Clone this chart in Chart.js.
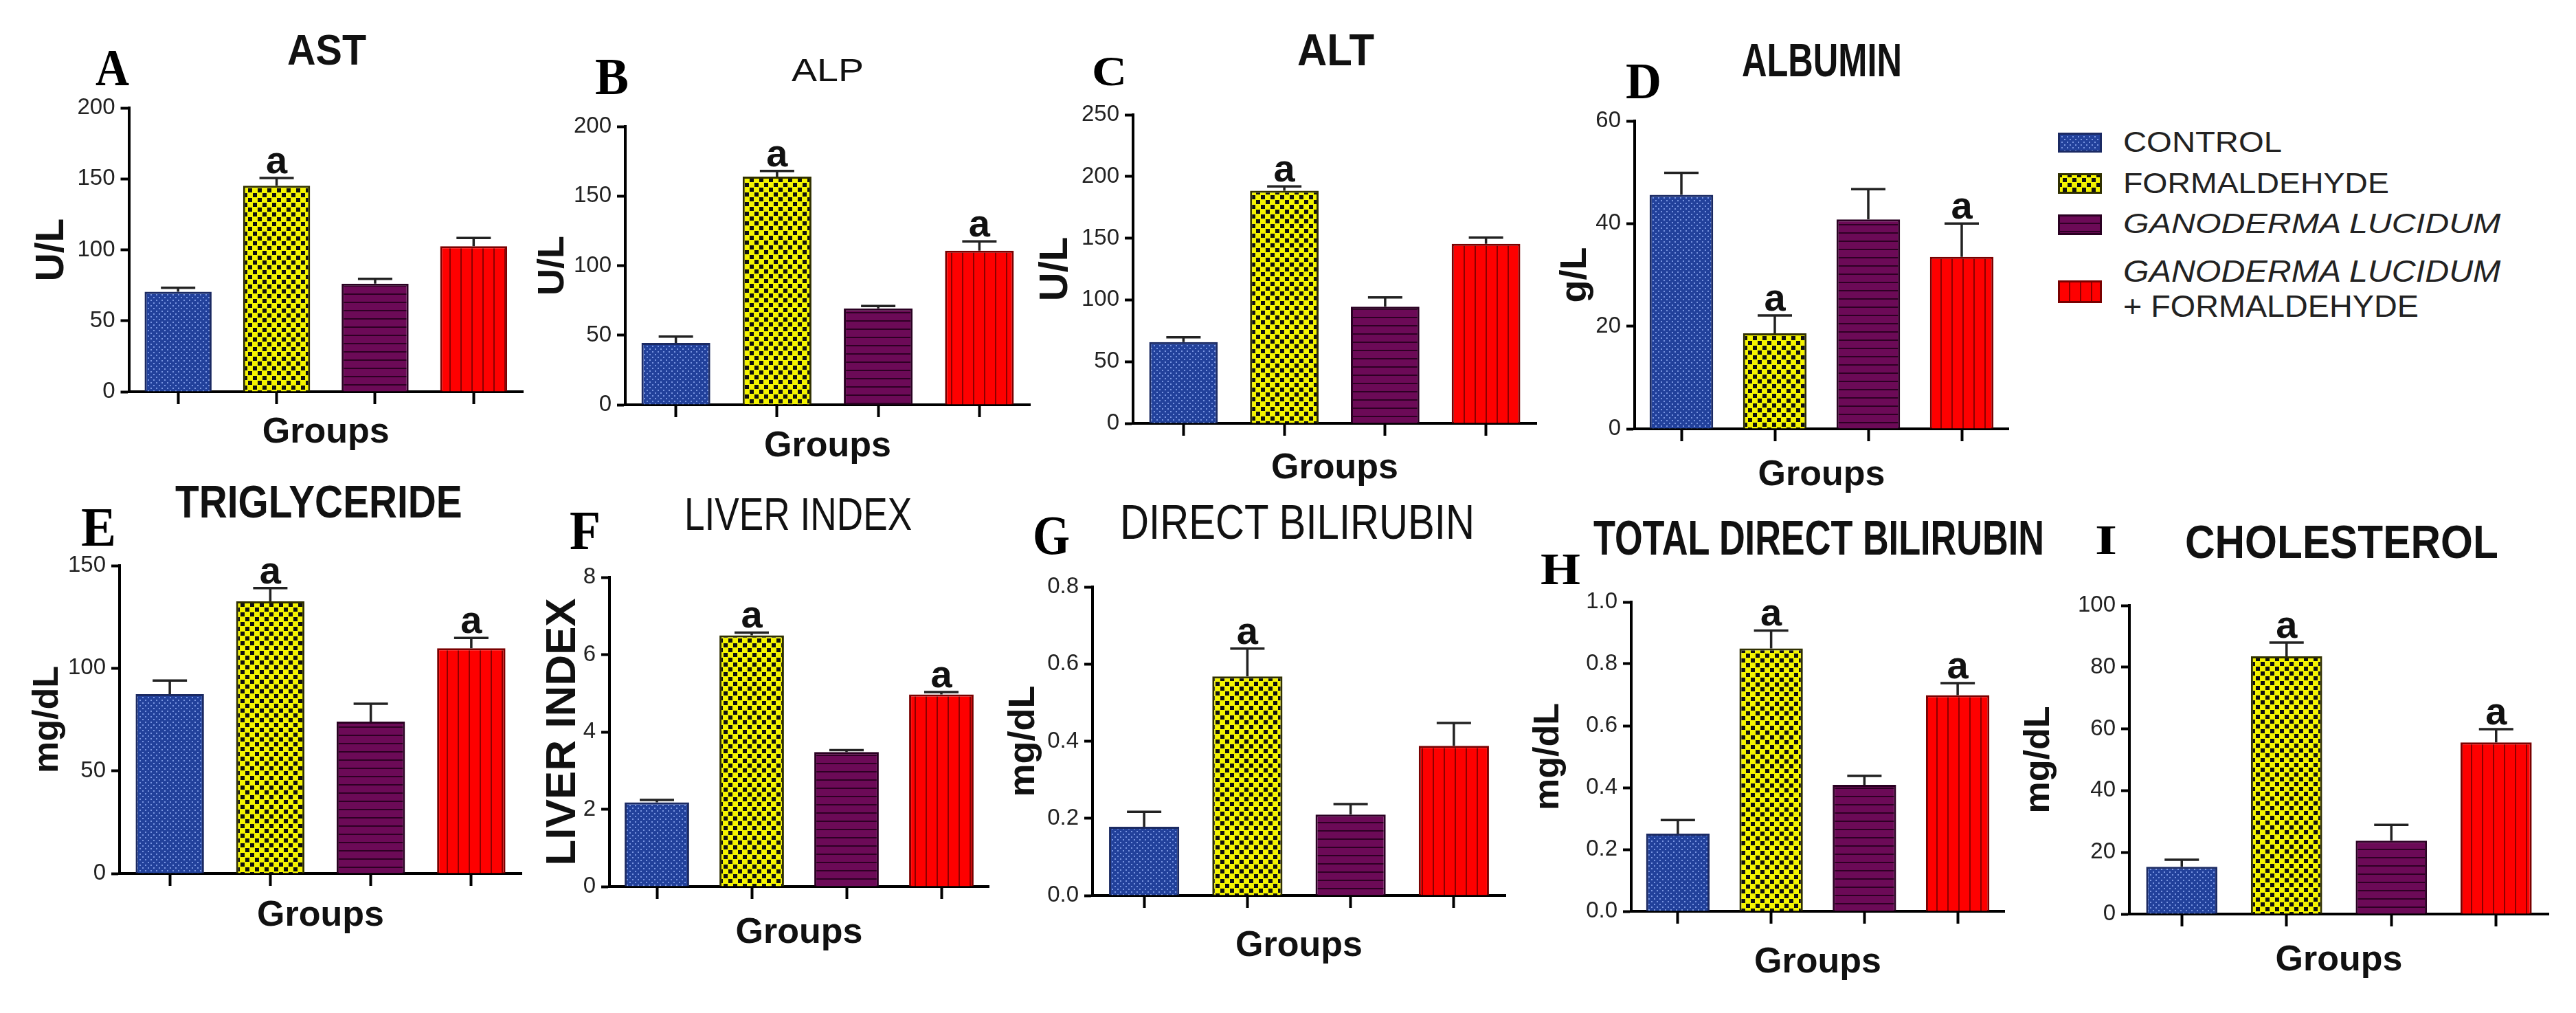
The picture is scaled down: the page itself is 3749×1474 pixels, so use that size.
<!DOCTYPE html>
<html>
<head>
<meta charset="utf-8">
<script src="https://cdn.jsdelivr.net/npm/chart.js@4.4.1/dist/chart.umd.min.js"></script>
<style>
  html, body { margin: 0; padding: 0; background: #fff; }
  #fig { position: relative; width: 3749px; height: 1474px; overflow: hidden; background: #fff; }
  #fig canvas { position: absolute; }
  .txt { position: absolute; white-space: nowrap; line-height: 1; color: #111; }
</style>
</head>
<body>
<div id="fig"></div>
<script>
// groups, in bar order
const categories = ['CONTROL', 'FORMALDEHYDE', 'GANODERMA LUCIDUM', 'GANODERMA LUCIDUM + FORMALDEHYDE'];

// values (mean, upper error, significance letter)
const astValues = [70.4, 145.1, 76.2, 102.5];
const astErrors = [2.9, 5.5, 3.3, 5.9];
const astLetters = ['', 'a', '', ''];
const astTicks = [200, 50];

const alpValues = [44.4, 164, 69.3, 110.8];
const alpErrors = [4.6, 4, 1.7, 6.6];
const alpLetters = ['', 'a', '', 'a'];
const alpTicks = [200, 50];

const altValues = [65.9, 188.5, 94.5, 145.5];
const altErrors = [3.8, 3.5, 7.5, 5];
const altLetters = ['', 'a', '', ''];
const altTicks = [250, 50];

const albuminValues = [45.6, 18.6, 40.8, 33.5];
const albuminErrors = [4.3, 3.5, 5.9, 6.5];
const albuminLetters = ['', 'a', '', 'a'];
const albuminTicks = [60, 20];

const triglycerideValues = [87.4, 132.6, 74, 109.7];
const triglycerideErrors = [6.6, 6.4, 8.7, 5.1];
const triglycerideLetters = ['', 'a', '', 'a'];
const triglycerideTicks = [150, 50];

const liverIndexValues = [2.18, 6.5, 3.48, 4.97];
const liverIndexErrors = [0.06, 0.07, 0.05, 0.06];
const liverIndexLetters = ['', 'a', '', 'a'];
const liverIndexTicks = [8, 2];

const directBiliValues = [0.178, 0.568, 0.21, 0.388];
const directBiliErrors = [0.039, 0.072, 0.027, 0.059];
const directBiliLetters = ['', 'a', '', ''];
const directBiliTicks = [0.8, 0.2];

const totalBiliValues = [0.251, 0.85, 0.409, 0.699];
const totalBiliErrors = [0.044, 0.058, 0.029, 0.039];
const totalBiliLetters = ['', 'a', '', 'a'];
const totalBiliTicks = [1.0, 0.2];

const cholesterolValues = [15.3, 83.5, 23.8, 55.6];
const cholesterolErrors = [2.3, 4.5, 5.1, 4.3];
const cholesterolLetters = ['', 'a', '', 'a'];
const cholesterolTicks = [100, 20];

const SANS = '"Liberation Sans", Arial, sans-serif';
const SERIF = '"Liberation Serif", "Times New Roman", serif';
const fig = document.getElementById('fig');
const measureCtx = document.createElement('canvas').getContext('2d');

// --- bar fill patterns ---
function tile(w, h, draw) {
  const c = document.createElement('canvas');
  c.width = w; c.height = h;
  const g = c.getContext('2d');
  draw(g);
  return g.createPattern(c, 'repeat');
}
const fills = [
  tile(8, 8, g => {
    g.fillStyle = '#22419b'; g.fillRect(0, 0, 8, 8);
    g.fillStyle = '#7894e0'; g.fillRect(1, 1, 2, 2); g.fillRect(5, 5, 2, 2);
  }),
  tile(14, 14, g => {
    g.fillStyle = '#f4f400'; g.fillRect(0, 0, 14, 14);
    g.fillStyle = '#111'; g.fillRect(0, 0, 6, 6); g.fillRect(7, 7, 6, 6);
  }),
  tile(12, 12, g => {
    g.fillStyle = '#6c0a57'; g.fillRect(0, 0, 12, 12);
    g.fillStyle = '#2e0024'; g.fillRect(0, 0, 12, 2);
  }),
  tile(16, 16, g => {
    g.fillStyle = '#fe0000'; g.fillRect(0, 0, 16, 16);
    g.fillStyle = '#8c0000'; g.fillRect(0, 0, 2, 16);
  })
];
const borders = ['#1b2a63', '#303000', '#2a0022', '#7a0000'];

// --- text helper: fit a string into a measured box (cap top / cap bottom) ---
function fitText(str, x0, x1, capTop, capBottom, o = {}) {
  const capRatio = o.serif ? 0.662 : 0.716;
  const topRatio = o.serif ? 0.1755 : 0.1305;
  const size = (capBottom - capTop) / capRatio;
  const font = (o.italic ? 'italic ' : '') + (o.bold ? 'bold ' : '') + size.toFixed(1) + 'px ' + (o.serif ? SERIF : SANS);
  measureCtx.font = font;
  const sx = (x1 - x0) / measureCtx.measureText(str).width;
  const el = document.createElement('div');
  el.className = 'txt';
  el.textContent = str;
  el.style.font = font;
  el.style.lineHeight = '1';
  el.style.color = o.color || '#111';
  el.style.left = x0 + 'px';
  el.style.top = (capTop - topRatio * size) + 'px';
  el.style.transformOrigin = '0 0';
  el.style.transform = 'scaleX(' + sx.toFixed(3) + ')';
  fig.appendChild(el);
}

// --- error bars and significance letters ---
const errorBars = {
  id: 'errorBars',
  afterDatasetsDraw(chart, args, opts) {
    const { ctx } = chart;
    const y = chart.scales.y;
    const meta = chart.getDatasetMeta(0);
    const values = chart.data.datasets[0].data;
    ctx.save();
    ctx.strokeStyle = '#222';
    ctx.fillStyle = '#111';
    ctx.lineWidth = 3.5;
    ctx.font = 'bold 56px ' + SANS;
    ctx.textAlign = 'center';
    ctx.textBaseline = 'alphabetic';
    meta.data.forEach((bar, i) => {
      const top = y.getPixelForValue(values[i]);
      const capY = y.getPixelForValue(values[i] + opts.errors[i]);
      ctx.beginPath();
      ctx.moveTo(bar.x, top);
      ctx.lineTo(bar.x, capY);
      ctx.moveTo(bar.x - 25, capY);
      ctx.lineTo(bar.x + 25, capY);
      ctx.stroke();
      if (opts.letters[i]) ctx.fillText(opts.letters[i], bar.x, capY - 7);
    });
    ctx.restore();
  }
};

// --- panel layout (pixel geometry of each plot) ---
const panels = [
  { values: astValues, errors: astErrors, letters: astLetters, ticks: astTicks, unit: 'U/L', unitSize: 57,
    x0: 187, x1: 760, yTop: 157, yBot: 570, unitX: 76, groupsY: 630,
    tag: ['A', 139, 188, 74, 125], title: ['AST', 418, 533, 49, 94, true] },
  { values: alpValues, errors: alpErrors, letters: alpLetters, ticks: alpTicks, unit: 'U/L', unitSize: 54,
    x0: 910, x1: 1499, yTop: 184, yBot: 589, unitX: 805, groupsY: 650,
    tag: ['B', 866, 915, 87, 138], title: ['ALP', 1152, 1257, 85, 118, false] },
  { values: altValues, errors: altErrors, letters: altLetters, ticks: altTicks, unit: 'U/L', unitSize: 58,
    x0: 1649, x1: 2236, yTop: 167, yBot: 616, unitX: 1537, groupsY: 682,
    tag: ['C', 1589, 1640, 85, 125], title: ['ALT', 1888, 2000, 49, 96, true] },
  { values: albuminValues, errors: albuminErrors, letters: albuminLetters, ticks: albuminTicks, unit: 'g/L', unitSize: 54,
    x0: 2379, x1: 2923, yTop: 176, yBot: 624, unitX: 2293, groupsY: 692,
    tag: ['D', 2366, 2418, 94, 143], title: ['ALBUMIN', 2535, 2768, 62, 111, true] },
  { values: triglycerideValues, errors: triglycerideErrors, letters: triglycerideLetters, ticks: triglycerideTicks, unit: 'mg/dL', unitSize: 52,
    x0: 174, x1: 759, yTop: 823, yBot: 1271, unitX: 70, groupsY: 1333,
    tag: ['E', 118, 169, 741, 794], title: ['TRIGLYCERIDE', 255, 673, 705, 753, true] },
  { values: liverIndexValues, errors: liverIndexErrors, letters: liverIndexLetters, ticks: liverIndexTicks, unit: 'LIVER INDEX', unitSize: 62,
    x0: 887, x1: 1439, yTop: 840, yBot: 1290, unitX: 820, groupsY: 1358,
    tag: ['F', 829, 874, 746, 799], title: ['LIVER INDEX', 996, 1327, 723, 771, false] },
  { values: directBiliValues, errors: directBiliErrors, letters: directBiliLetters, ticks: directBiliTicks, unit: 'mg/dL', unitSize: 54, decimals: 1,
    x0: 1590, x1: 2191, yTop: 854, yBot: 1303, unitX: 1490, groupsY: 1377,
    tag: ['G', 1503, 1557, 753, 806], title: ['DIRECT BILIRUBIN', 1630, 2147, 733, 784, false] },
  { values: totalBiliValues, errors: totalBiliErrors, letters: totalBiliLetters, ticks: totalBiliTicks, unit: 'mg/dL', unitSize: 52, decimals: 1,
    x0: 2374, x1: 2917, yTop: 876, yBot: 1326, unitX: 2254, groupsY: 1401,
    tag: ['H', 2242, 2300, 807, 850], title: ['TOTAL DIRECT BILIRUBIN', 2319, 2976, 756, 807, true] },
  { values: cholesterolValues, errors: cholesterolErrors, letters: cholesterolLetters, ticks: cholesterolTicks, unit: 'mg/dL', unitSize: 52,
    x0: 3099, x1: 3709, yTop: 881, yBot: 1330, unitX: 2968, groupsY: 1398,
    tag: ['I', 3049, 3081, 766, 807], title: ['CHOLESTEROL', 3180, 3636, 763, 812, true] }
];

const GROUPS_SIZE = 52;

function makePanel(p) {
  const padTop = 30, padRight = 25;
  const yw = p.x0 - (p.unitX - p.unitSize / 2 - 2);
  const xh = p.groupsY - p.yBot + GROUPS_SIZE / 2 + 2;
  const W = Math.round(yw + (p.x1 - p.x0) + padRight);
  const H = Math.round(padTop + (p.yBot - p.yTop) + xh);
  const cv = document.createElement('canvas');
  cv.width = W; cv.height = H;
  cv.style.left = (p.x0 - yw) + 'px';
  cv.style.top = (p.yTop - padTop) + 'px';
  fig.appendChild(cv);

  new Chart(cv, {
    type: 'bar',
    data: {
      labels: categories,
      datasets: [{
        data: p.values,
        backgroundColor: fills,
        borderColor: borders,
        borderWidth: 3,
        barPercentage: 0.68,
        categoryPercentage: 1
      }]
    },
    options: {
      responsive: false,
      animation: false,
      devicePixelRatio: 1,
      layout: { padding: { left: 0, top: padTop, right: padRight, bottom: 0 } },
      plugins: {
        legend: { display: false },
        tooltip: { enabled: false },
        errorBars: { errors: p.errors, letters: p.letters }
      },
      scales: {
        x: {
          offset: true,
          grid: { display: true, drawOnChartArea: false, drawTicks: true, tickLength: 18, tickWidth: 4, tickColor: '#000', offset: false },
          border: { display: true, color: '#000', width: 4 },
          ticks: { display: false },
          title: { display: true, text: 'Groups', color: '#111',
                   font: { family: SANS, size: GROUPS_SIZE, weight: 'bold', lineHeight: 1 },
                   padding: { top: 0, bottom: 2 } },
          afterFit: s => { s.height = xh; }
        },
        y: {
          min: 0,
          max: p.ticks[0],
          ticks: { stepSize: p.ticks[1], color: '#222', padding: 8,
                   font: { family: SANS, size: 33 },
                   callback: v => p.decimals ? Number(v).toFixed(p.decimals) : v },
          grid: { display: true, drawOnChartArea: false, drawTicks: true, tickLength: 12, tickWidth: 4, tickColor: '#000' },
          border: { display: true, color: '#000', width: 4 },
          title: { display: true, text: p.unit, color: '#111',
                   font: { family: SANS, size: p.unitSize, weight: 'bold', lineHeight: 1 },
                   padding: { top: 2, bottom: 0 } },
          afterFit: s => { s.width = yw; }
        }
      }
    },
    plugins: [errorBars]
  });

  const t = p.tag;
  fitText(t[0], t[1], t[2], t[3], t[4], { serif: true, bold: true, color: '#000' });
  const ti = p.title;
  fitText(ti[0], ti[1], ti[2], ti[3], ti[4], { bold: ti[5], color: '#111' });
}

panels.forEach(makePanel);

// --- legend ---
const legendRows = [
  { lines: [categories[0]], sw: [193, 222], text: [[3090, 3321, 191, 221]] },
  { lines: [categories[1]], sw: [252, 282], text: [[3090, 3477, 251, 282]] },
  { lines: [categories[2]], sw: [312, 342], text: [[3090, 3641, 310, 339]], italic: [true] },
  { lines: categories[3].split(' + ').map((s, i) => i ? '+ ' + s : s), sw: [408, 441],
    text: [[3090, 3641, 379, 411], [3090, 3520, 430, 462]], italic: [true, false] }
];
legendRows.forEach((row, k) => {
  const c = document.createElement('canvas');
  const w = 64, h = row.sw[1] - row.sw[0];
  c.width = w; c.height = h;
  c.style.left = '2995px';
  c.style.top = row.sw[0] + 'px';
  const g = c.getContext('2d');
  g.fillStyle = fills[k]; g.fillRect(0, 0, w, h);
  g.strokeStyle = borders[k]; g.lineWidth = 3; g.strokeRect(1.5, 1.5, w - 3, h - 3);
  fig.appendChild(c);
  row.lines.forEach((line, j) => {
    const b = row.text[j];
    fitText(line, b[0], b[1], b[2], b[3], { italic: row.italic ? row.italic[j] : false, color: '#222' });
  });
});
</script>
</body>
</html>
